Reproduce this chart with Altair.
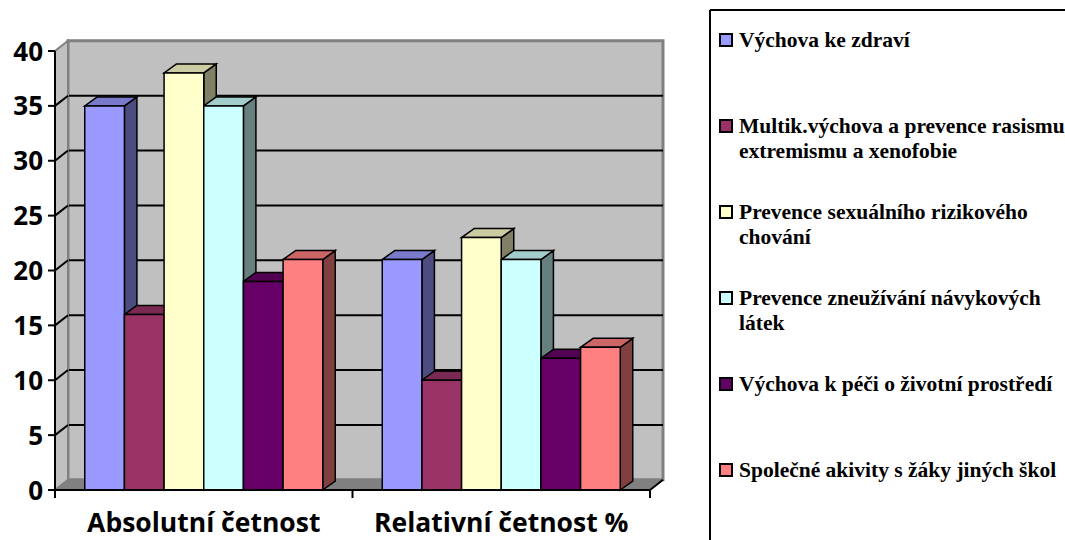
import altair as alt
import pandas as pd

# ---- data -------------------------------------------------------------
CATEGORIES = ["Absolutní četnost", "Relativní četnost %"]
SERIES = [
    "Výchova ke zdraví",
    "Multik.výchova a prevence rasismu, extremismu a xenofobie",
    "Prevence sexuálního rizikového chování",
    "Prevence zneužívání návykových látek",
    "Výchova k péči o životní prostředí",
    "Společné akivity s žáky jiných škol",
]
ABSOLUTE = [35, 16, 38, 35, 19, 21]
RELATIVE = [21, 10, 23, 21, 12, 13]
LEGEND_LINES = [
    ["Výchova ke zdraví"],
    ["Multik.výchova a prevence rasismu,", "extremismu a xenofobie"],
    ["Prevence sexuálního rizikového", "chování"],
    ["Prevence zneužívání návykových", "látek"],
    ["Výchova k péči o životní prostředí"],
    ["Společné akivity s žáky jiných škol"],
]
Y_TICKS = [0, 5, 10, 15, 20, 25, 30, 35, 40]
Y_TOP = 40

# ---- styling ----------------------------------------------------------
PALETTE = ["#9999FF", "#993366", "#FFFFCC", "#CCFFFF", "#660066", "#FF8080"]
WALL = "#C0C0C0"
WALL_EDGE = "#808080"
FLOOR = "#808080"
AXIS_FONT = "Open Sans"

WIDTH, HEIGHT = 1010, 480
PX_PER_X = 297.5      # pixels per category slot
PX_PER_Y = 10.975     # pixels per value unit
X_MAX = WIDTH / PX_PER_X
Y_MAX = HEIGHT / PX_PER_Y

GROUP_SPAN = 0.8
BAR_W = GROUP_SPAN / len(SERIES)
BAR_DX, BAR_DY = 12.5 / PX_PER_X, 9.0 / PX_PER_Y     # bar depth
WALL_DX, WALL_DY = 13.0 / PX_PER_X, 10.2 / PX_PER_Y  # wall depth


def shade(hex_color, k):
    r, g, b = (int(hex_color[i:i + 2], 16) for i in (1, 3, 5))
    return "#{:02X}{:02X}{:02X}".format(round(r * k), round(g * k), round(b * k))


xscale = alt.Scale(domain=[0, X_MAX], nice=False, zero=False)
yscale = alt.Scale(domain=[0, Y_MAX], nice=False, zero=False)


def X(field):
    return alt.X(field, type="quantitative", scale=xscale, axis=None)


def Y(field):
    return alt.Y(field, type="quantitative", scale=yscale, axis=None, stack=False)


# ---- bar faces --------------------------------------------------------
fronts, sides, tops = [], [], []
for g, values in enumerate([ABSOLUTE, RELATIVE]):
    for j, v in enumerate(values):
        key = f"{g}-{j}"
        x0 = g + (1 - GROUP_SPAN) / 2 + j * BAR_W
        x1 = x0 + BAR_W
        fronts.append(dict(key=key, series=SERIES[j], category=CATEGORIES[g],
                           x=x0, x2=x1, y=0, y2=v, fill=PALETTE[j]))
        side = shade(PALETTE[j], 0.5)
        sides.append(dict(key=key, x=x1, y=0, y2=v, fill=side))
        sides.append(dict(key=key, x=x1 + BAR_DX, y=BAR_DY, y2=v + BAR_DY, fill=side))
        top = shade(PALETTE[j], 0.8)
        tops.append(dict(key=key, y=v, x=x0, x2=x1, fill=top))
        tops.append(dict(key=key, y=v + BAR_DY, x=x0 + BAR_DX, x2=x1 + BAR_DX, fill=top))

fronts, sides, tops = pd.DataFrame(fronts), pd.DataFrame(sides), pd.DataFrame(tops)

# ---- walls and floor --------------------------------------------------
n_cat = len(CATEGORIES)
back_df = pd.DataFrame([dict(x=WALL_DX, x2=n_cat + WALL_DX, y=WALL_DY, y2=Y_TOP + WALL_DY)])
grid_vals = [t for t in Y_TICKS if 0 < t < Y_TOP]
back_grid_df = pd.DataFrame([dict(x=WALL_DX, x2=n_cat + WALL_DX, y=t + WALL_DY) for t in grid_vals])
side_wall_df = pd.DataFrame([dict(x=0, y=0, y2=Y_TOP),
                             dict(x=WALL_DX, y=WALL_DY, y2=Y_TOP + WALL_DY)])
side_grid_df = pd.DataFrame([dict(t=t, x=xx, y=t + dy)
                             for t in grid_vals for xx, dy in ((0, 0), (WALL_DX, WALL_DY))])
floor_df = pd.DataFrame([dict(y=0, x=0, x2=n_cat),
                         dict(y=WALL_DY, x=WALL_DX, x2=n_cat + WALL_DX)])
floor_edge_df = pd.DataFrame([dict(x=n_cat, y=0), dict(x=n_cat + WALL_DX, y=WALL_DY)])

back_wall = alt.Chart(back_df).mark_rect(fill=WALL, stroke=WALL_EDGE, strokeWidth=3).encode(
    x=X("x"), x2="x2", y=Y("y"), y2="y2")
back_grid = alt.Chart(back_grid_df).mark_rule(color="black", strokeWidth=2).encode(
    x=X("x"), x2="x2", y=Y("y"))
side_wall = alt.Chart(side_wall_df).mark_area(
    orient="vertical", fill=WALL, stroke=WALL_EDGE, strokeWidth=2).encode(
    x=X("x"), y=Y("y"), y2="y2")
side_grid = alt.Chart(side_grid_df).mark_line(color="black", strokeWidth=2).encode(
    x=X("x"), y=Y("y"), detail="t:N")
floor = alt.Chart(floor_df).mark_area(
    orient="horizontal", fill=FLOOR, stroke=FLOOR, strokeWidth=1).encode(
    y=Y("y"), x=X("x"), x2="x2")
floor_edge = alt.Chart(floor_edge_df).mark_line(color="black", strokeWidth=2).encode(
    x=X("x"), y=Y("y"))
y_line = alt.Chart(pd.DataFrame([dict(x=0, y=0, y2=Y_TOP)])).mark_rule(
    color="black", strokeWidth=2).encode(x=X("x"), y=Y("y"), y2="y2")
x_line = alt.Chart(pd.DataFrame([dict(x=0, x2=n_cat, y=0)])).mark_rule(
    color="black", strokeWidth=2).encode(x=X("x"), x2="x2", y=Y("y"))

# ---- axis ticks and labels -------------------------------------------
y_tick_df = pd.DataFrame({"t": Y_TICKS, "x": 0, "label": [str(t) for t in Y_TICKS]})
y_ticks = alt.Chart(y_tick_df).mark_rule(color="black", strokeWidth=2).encode(
    x=alt.value(-7), x2=alt.value(0), y=Y("t"))
y_labels = alt.Chart(y_tick_df).mark_text(
    align="right", baseline="middle", dx=-12, dy=1.5, font=AXIS_FONT, fontWeight="bold",
    fontSize=26, color="black").encode(x=X("x"), y=Y("t"), text="label:N")

x_tick_df = pd.DataFrame({"x": list(range(n_cat + 1)), "y": 0})
x_ticks = alt.Chart(x_tick_df).mark_rule(color="black", strokeWidth=2).encode(
    x=X("x"), y=Y("y"), y2=alt.value(HEIGHT + 8))
x_label_df = pd.DataFrame({"x": [i + 0.5 for i in range(n_cat)], "y": 0, "label": CATEGORIES})
x_labels = alt.Chart(x_label_df).mark_text(
    align="center", baseline="alphabetic", dy=42, font=AXIS_FONT, fontWeight="bold",
    fontSize=26.5, color="black").encode(x=X("x"), y=Y("y"), text="label:N")

# ---- bars ---------------------------------------------------------------
bar_sides = alt.Chart(sides).mark_area(
    orient="vertical", stroke="black", strokeWidth=1.5, strokeJoin="miter").encode(
    x=X("x"), y=Y("y"), y2="y2", color=alt.Color("fill:N", scale=None), detail="key:N")
bar_tops = alt.Chart(tops).mark_area(
    orient="horizontal", stroke="black", strokeWidth=1.5, strokeJoin="miter").encode(
    y=Y("y"), x=X("x"), x2="x2", color=alt.Color("fill:N", scale=None), detail="key:N")
bar_fronts = alt.Chart(fronts).mark_rect(stroke="black", strokeWidth=1.5).encode(
    x=X("x"), x2="x2", y=Y("y"), y2="y2", color=alt.Color("fill:N", scale=None),
    tooltip=["category:N", "series:N", "y2:Q"])

# ---- legend (laid out in pixels inside the plot area) ----------------
ENTRY_STEP = 86.0     # px between legend entries
LINE_STEP = 25.0      # px between wrapped lines
FIRST_ENTRY = 30.0    # px from the top of the plot area
BOX_X = 655           # legend frame, px from plot left
SWATCH_X = 671
TEXT_X = 684


def px_to_y(px_from_top):
    return (HEIGHT - px_from_top) / PX_PER_Y


text_rows, swatch_rows = [], []
for i, lines in enumerate(LEGEND_LINES):
    top_px = FIRST_ENTRY + i * ENTRY_STEP
    swatch_rows.append(dict(ly=px_to_y(top_px), fill=PALETTE[i]))
    for k, line in enumerate(lines):
        text_rows.append(dict(ly=px_to_y(top_px + k * LINE_STEP), text=line))

swatches = alt.Chart(pd.DataFrame(swatch_rows)).mark_square(
    size=144, opacity=1, stroke="black", strokeWidth=2).encode(
    x=alt.value(SWATCH_X), y=Y("ly"), fill=alt.Fill("fill:N", scale=None))
labels = alt.Chart(pd.DataFrame(text_rows)).mark_text(
    align="left", baseline="middle", dy=1,
    font="Liberation Serif", fontWeight="bold",
    fontSize=21.5, color="black").encode(
    x=alt.value(TEXT_X), y=Y("ly"), text="text:N")
frame_df = pd.DataFrame({"id": [0]})
box_left = alt.Chart(frame_df).mark_rule(color="black", strokeWidth=2).encode(
    x=alt.value(BOX_X), y=alt.value(0), y2=alt.value(HEIGHT + 80))
box_top = alt.Chart(frame_df).mark_rule(color="black", strokeWidth=2).encode(
    x=alt.value(BOX_X), x2=alt.value(WIDTH + 40), y=alt.value(0))

chart = alt.layer(
    back_wall, back_grid, side_wall, side_grid, floor, floor_edge, y_line,
    bar_sides, bar_tops, bar_fronts, x_line,
    y_ticks, y_labels, x_ticks, x_labels,
    box_left, box_top, swatches, labels,
).properties(
    width=WIDTH, height=HEIGHT,
    padding={"left": 55, "top": 10, "right": 0, "bottom": 50},
    autosize=alt.AutoSizeParams(type="none"),
    background="white",
).configure_view(strokeWidth=0)

chart.save("out.html", embed_options={"renderer": "svg", "actions": False})
